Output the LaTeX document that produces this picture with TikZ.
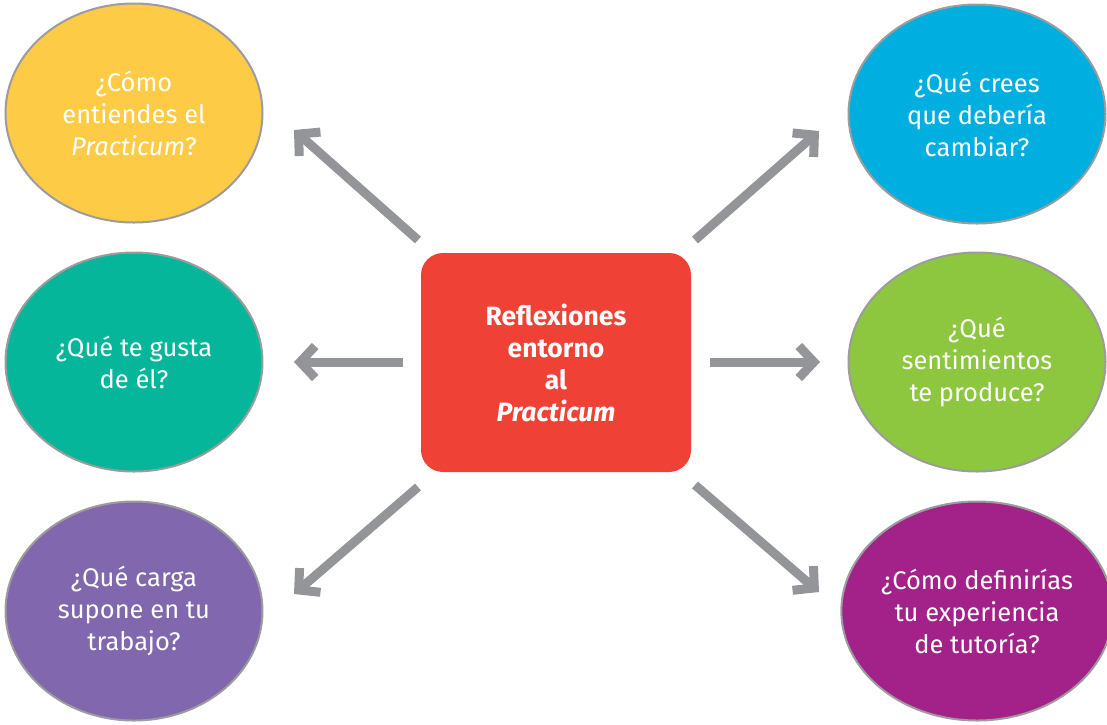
\documentclass[tikz,border=0pt]{standalone}
\usepackage{fontspec}
\setmainfont{Fira Sans}
\usetikzlibrary{arrows.meta}
\definecolor{cyellow}{HTML}{FDCB45}
\definecolor{cteal}{HTML}{06B69A}
\definecolor{cpurple}{HTML}{8067AE}
\definecolor{cblue}{HTML}{00AEDF}
\definecolor{cgreen}{HTML}{8DC63F}
\definecolor{cmagenta}{HTML}{A3228A}
\definecolor{cred}{HTML}{EF4136}
\definecolor{carrow}{HTML}{939598}
\definecolor{cborder}{HTML}{9C9C9C}
\tikzset{
  bubble/.style={ellipse, draw=cborder, line width=2pt, minimum width=257pt, minimum height=219pt,
    inner sep=0pt, align=center, text=white, font=\fontsize{25.5}{32}\selectfont},
  centerbox/.style={rectangle, rounded corners=22pt, fill=cred, minimum width=270pt, minimum height=219pt,
    inner sep=0pt, align=center, text=white, font=\fontsize{26.5}{32}\selectfont\bfseries},
  arr/.style={draw=carrow, line width=9pt, -{Straight Barb[sharp, length=15pt, width=32pt]}},
}
\usetikzlibrary{shapes.geometric}
\begin{document}
\begin{tikzpicture}[x=1pt,y=-1pt]
\useasboundingbox (0,0) rectangle (1107,724);
\node[centerbox] (c) at (556,362.5) {Reflexiones\\entorno\\al\\\textit{Practicum}};
\node[bubble, fill=cyellow] (tl) at (134,113) {¿Cómo\\entiendes el\\\textit{Practicum}?};
\node[bubble, fill=cteal] (ml) at (134,362) {¿Qué te gusta\\de él?};
\node[bubble, fill=cpurple] (bl) at (134,611) {¿Qué carga\\supone en tu\\trabajo?};
\node[bubble, fill=cblue] (tr) at (977,114) {¿Qué crees\\que debería\\cambiar?};
\node[bubble, fill=cgreen] (mr) at (977,362) {¿Qué\\sentimientos\\te produce?};
\node[bubble, fill=cmagenta] (br) at (977,611) {¿Cómo definirías\\tu experiencia\\de tutoría?};
\coordinate (s1) at (418,240); \coordinate (e1) at (294,130);
\coordinate (s2) at (403,362); \coordinate (e2) at (294,362);
\coordinate (s3) at (418,487); \coordinate (e3) at (294,594);
\coordinate (s4) at (695,240); \coordinate (e4) at (819,131);
\coordinate (s5) at (710,362); \coordinate (e5) at (820,362);
\coordinate (s6) at (695,485); \coordinate (e6) at (819,592);
\draw[arr] (s1) -- (e1);
\draw[arr] (s2) -- (e2);
\draw[arr] (s3) -- (e3);
\draw[arr] (s4) -- (e4);
\draw[arr] (s5) -- (e5);
\draw[arr] (s6) -- (e6);
\end{tikzpicture}
\end{document}
